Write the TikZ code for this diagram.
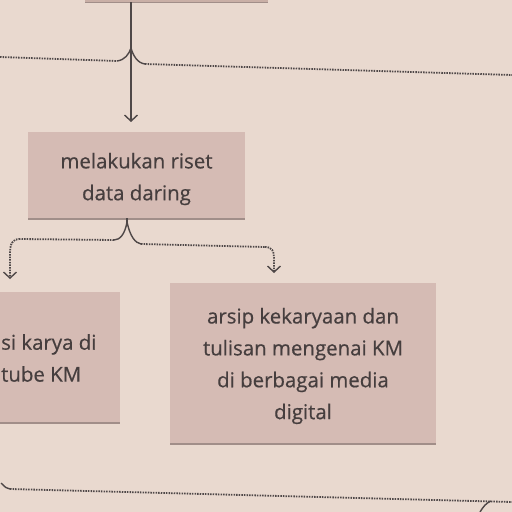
\documentclass[tikz,border=0pt]{standalone}
\usepackage{fontspec}
\setmainfont{Open Sans}
\newfontfamily\boxfont{Open Sans}[FakeBold=0.5]
\usetikzlibrary{arrows.meta,shadows}
\definecolor{bgcol}{HTML}{E9D9CF}
\definecolor{boxcol}{HTML}{D5BBB4}
\definecolor{topcol}{HTML}{C9AFA6}
\definecolor{txtcol}{HTML}{463E3E}
\definecolor{linecol}{HTML}{4F4848}
\definecolor{shadowcol}{HTML}{8F7C78}
\tikzset{
  stepbox/.style={fill=boxcol, draw=none, inner sep=0pt,
    drop shadow={shadow xshift=0bp, shadow yshift=-2bp, fill=shadowcol, opacity=0.8}},
  steptext/.style={text=txtcol, inner sep=0pt,
    font=\boxfont\fontsize{20.5}{32}\selectfont, align=center},
  dotline/.style={draw=linecol, line width=1.8bp, dash pattern=on 1.5bp off 1.1bp},
  solidline/.style={draw=linecol, line width=1.4bp},
  arr/.style={-{Straight Barb[length=6bp,width=13bp,line width=1.4bp]}},
}
\begin{document}
\begin{tikzpicture}[x=1bp,y=-1bp]
\useasboundingbox (0,0) rectangle (512,512);
\clip (0,0) rectangle (512,512);
\fill[bgcol] (0,0) rectangle (512,512);
% top box (only its lower edge is visible)
\node[fill=topcol, minimum width=183bp, minimum height=30bp, inner sep=0pt,
  drop shadow={shadow xshift=0bp, shadow yshift=-1.5bp, fill=shadowcol, opacity=0.8}]
  (top) at (176.5,-13) {};
% middle box
\node[stepbox, minimum width=217bp, minimum height=86bp] (riset) at (136.5,175) {};
\node[steptext] (risettxt) at (136.5,179) {melakukan riset\\data daring};
% left box (cut by the left edge)
\node[stepbox, minimum width=200bp, minimum height=130bp] (karya) at (20,357) {};
\node[steptext, align=left, anchor=west] (karyatxt) at (1,358) {si karya di\\tube KM};
% right box
\node[stepbox, minimum width=266bp, minimum height=160bp] (arsip) at (303,363) {};
\node[steptext] (arsiptxt) at (303,366)
  {arsip kekaryaan dan\\tulisan mengenai KM\\di berbagai media\\digital};
% coordinates of the connectors
\coordinate (tv) at (131,0);
\coordinate (tip1) at (131,122);
\coordinate (bl0) at (0,57);
\coordinate (bl1) at (117,61);
\coordinate (bpk) at (131,48);
\coordinate (br1) at (145,64);
\coordinate (br0) at (512,75);
% vertical arrow from top box to middle box
\draw[solidline, arr] (top.south -| tv) -- (tip1);
% horizontal line with the upward peak
\draw[dotline] (bl0) -- (bl1);
\draw[solidline] (bl1) .. controls (125,60) and (129,54) .. (bpk)
  .. controls (133,55) and (137,63) .. (br1);
\draw[dotline] (br1) -- (br0);
% brace under the middle box
\coordinate (mpk) at (127,222);
\coordinate (ml1) at (114,240);
\coordinate (ml2) at (20,239);
\coordinate (mr1) at (141,244);
\coordinate (mr2) at (265,247);
\draw[solidline] (riset.south -| mpk) -- (mpk);
\draw[solidline] (mpk) .. controls (125,234) and (120,240) .. (ml1);
\draw[solidline] (mpk) .. controls (130,236) and (135,243) .. (mr1);
\draw[dotline] (ml1) -- (ml2);
\draw[dotline] (mr1) -- (mr2);
\draw[dotline, arr] (ml2) .. controls (12,239) and (10,244) .. (10,254) -- (10,279);
\draw[dotline, arr] (mr2) .. controls (272,247) and (274,251) .. (274,258) -- (274,273);
% bottom line
\coordinate (bb0) at (1,483);
\coordinate (bb1) at (10,489);
\coordinate (bb2) at (512,502);
\coordinate (bb3) at (491,501);
\coordinate (bb4) at (480,512);
\draw[solidline] (bb0) .. controls (5,487) and (7,489) .. (bb1);
\draw[dotline] (bb1) -- (bb2);
\draw[solidline] (bb3) .. controls (486,503) and (483,507) .. (bb4);
\end{tikzpicture}
\end{document}
